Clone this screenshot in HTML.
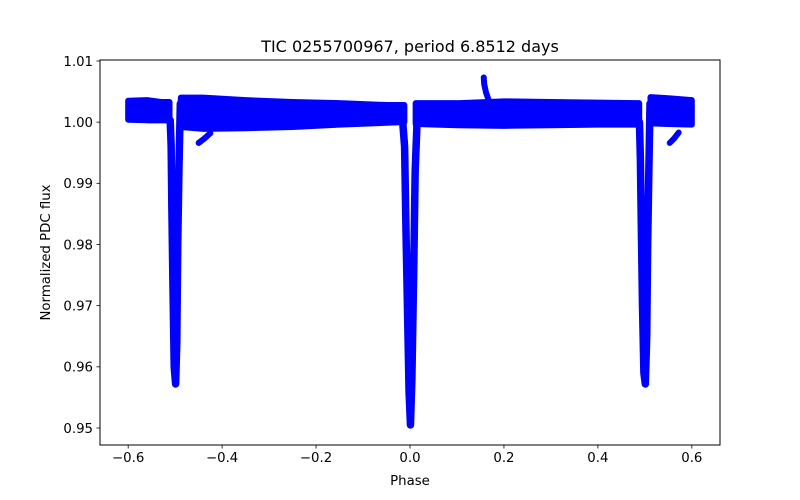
<!DOCTYPE html>
<html><head><meta charset="utf-8"><style>
html,body{margin:0;padding:0;background:#fff;}
svg{display:block;font-family:"DejaVu Sans","Liberation Sans",sans-serif;}
</style></head><body>
<svg id="chart" width="800" height="500" viewBox="0 0 800 500"></svg>
<script>
// ---- data ----
const xTicks = [-0.6, -0.4, -0.2, 0.0, 0.2, 0.4, 0.6];
const xTickLabels = ["\u22120.6", "\u22120.4", "\u22120.2", "0.0", "0.2", "0.4", "0.6"];
const yTicks = [0.95, 0.96, 0.97, 0.98, 0.99, 1.00, 1.01];
const yTickLabels = ["0.95", "0.96", "0.97", "0.98", "0.99", "1.00", "1.01"];
// baseline band segments: phase, upper flux, lower flux
const bandPhase1 = [-0.600, -0.560, -0.530, -0.512];
const bandUpper1 = [1.0035, 1.0036, 1.0033, 1.0033];
const bandLower1 = [1.0004, 1.0003, 1.0003, 1.0003];
const bandPhase2 = [-0.488, -0.440, -0.350, -0.250, -0.150, -0.050, -0.012];
const bandUpper2 = [1.0040, 1.0040, 1.0036, 1.0033, 1.0031, 1.0028, 1.0028];
const bandLower2 = [0.9992, 0.9989, 0.9990, 0.9992, 0.9996, 0.9999, 1.0000];
const bandPhase3 = [0.012, 0.100, 0.200, 0.300, 0.400, 0.488];
const bandUpper3 = [1.0031, 1.0031, 1.0034, 1.0033, 1.0032, 1.0031];
const bandLower3 = [0.9997, 0.9995, 0.9994, 0.9995, 0.9996, 0.9996];
const bandPhase4 = [0.512, 0.550, 0.600];
const bandUpper4 = [1.0041, 1.0039, 1.0036];
const bandLower4 = [0.9998, 0.9997, 0.9996];
// eclipses: phase and flux along ingress -> bottom -> egress
const ecl1Phase = [-0.5105, -0.5085, -0.5070, -0.5050, -0.5020, -0.4990, -0.4965, -0.4945, -0.4920, -0.4890];
const ecl1Flux  = [1.0003, 0.9960, 0.9860, 0.9750, 0.9600, 0.9572, 0.9640, 0.9800, 0.9920, 1.0030];
const ecl2Phase = [-0.0155, -0.0115, -0.0085, -0.0050, -0.0020, 0.0010, 0.0040, 0.0080, 0.0110, 0.0150];
const ecl2Flux  = [1.0000, 0.9960, 0.9820, 0.9680, 0.9560, 0.9505, 0.9580, 0.9760, 0.9920, 1.0000];
const ecl3Phase = [0.4885, 0.4905, 0.4925, 0.4950, 0.4980, 0.5010, 0.5040, 0.5060, 0.5085, 0.5110];
const ecl3Flux  = [1.0000, 0.9940, 0.9830, 0.9700, 0.9590, 0.9572, 0.9650, 0.9800, 0.9920, 1.0030];
// small features
const tail1Phase = [-0.450, -0.438, -0.425];
const tail1Flux  = [0.9966, 0.9973, 0.9982];
const tail2Phase = [0.553, 0.562, 0.572];
const tail2Flux  = [0.9966, 0.9973, 0.9983];
const bumpPhase = [0.157, 0.158, 0.162, 0.168];
const bumpFlux  = [1.0073, 1.0062, 1.0048, 1.0035];

// ---- axes ----
const L = 100, R = 720, T = 60, B = 445;
const xMin = -0.66, xMax = 0.66, yMin = 0.94722, yMax = 1.01016;
const xs = v => L + (v - xMin) / (xMax - xMin) * (R - L);
const ys = v => B - (v - yMin) / (yMax - yMin) * (B - T);
const NS = "http://www.w3.org/2000/svg";
const svg = document.getElementById('chart');
function mk(tag, attrs, parent) {
  const e = document.createElementNS(NS, tag);
  for (const k in attrs) e.setAttribute(k, attrs[k]);
  (parent || svg).appendChild(e);
  return e;
}
const BLUE = "#0000ff";
const data = mk('g', {});



function band(ph, up, lo, name) {
  let pts = [];
  for (let i = 0; i < ph.length; i++) pts.push(xs(ph[i]) + "," + ys(up[i]));
  for (let i = ph.length - 1; i >= 0; i--) pts.push(xs(ph[i]) + "," + ys(lo[i]));
  const p = mk('polygon', {points: pts.join(" "), fill: BLUE, stroke: BLUE, "stroke-width": 6, "stroke-linejoin": "round"}, data);
  
  
}
function line(ph, fl, name, w) {
  const pts = ph.map((p, i) => xs(p) + "," + ys(fl[i])).join(" ");
  const p = mk('polyline', {points: pts, fill: "none", stroke: BLUE, "stroke-width": w, "stroke-linejoin": "round", "stroke-linecap": "round"}, data);
  
  
}
band(bandPhase1, bandUpper1, bandLower1, 'baseline-band-1');
band(bandPhase2, bandUpper2, bandLower2, 'baseline-band-2');
band(bandPhase3, bandUpper3, bandLower3, 'baseline-band-3');
band(bandPhase4, bandUpper4, bandLower4, 'baseline-band-4');
line(ecl1Phase, ecl1Flux, 'secondary-eclipse-left', 7.5);
line(ecl2Phase, ecl2Flux, 'primary-eclipse', 7.5);
line(ecl3Phase, ecl3Flux, 'secondary-eclipse-right', 7.5);
line(tail1Phase, tail1Flux, 'feature-tail-left', 6);
line(tail2Phase, tail2Flux, 'feature-tail-right', 6);
line(bumpPhase, bumpFlux, 'flare-bump', 6);

// frame
const fr = mk('rect', {x: L, y: T, width: R - L, height: B - T, fill: "none", stroke: "#000", "stroke-width": 1});



// x ticks
xTicks.forEach((t, i) => {
  const x = xs(t);
  const tk = mk('line', {x1: x, x2: x, y1: B, y2: B + 3.5, stroke: "#000", "stroke-width": 0.8});
  
  
  const tx = mk('text', {x: x, y: B + 17, "text-anchor": "middle", "font-size": "13.3px"});
  tx.textContent = xTickLabels[i];
  
  
});
// y ticks
yTicks.forEach((t, i) => {
  const y = ys(t);
  const tk = mk('line', {x1: L - 3.5, x2: L, y1: y, y2: y, stroke: "#000", "stroke-width": 0.8});
  
  
  const tx = mk('text', {x: L - 7, y: y + 4.8, "text-anchor": "end", "font-size": "13.3px"});
  tx.textContent = yTickLabels[i];
  
  
});
const xl = mk('text', {x: (L + R) / 2, y: 485, "text-anchor": "middle", "font-size": "13.3px"});
xl.textContent = "Phase";


const yl = mk('text', {x: 50, y: (T + B) / 2, "text-anchor": "middle", "font-size": "13.3px", transform: "rotate(-90 50 " + ((T + B) / 2) + ")"});
yl.textContent = "Normalized PDC flux";


const ti = mk('text', {x: (L + R) / 2, y: 52, "text-anchor": "middle", "font-size": "16px"});
ti.textContent = "TIC 0255700967, period 6.8512 days";


</script>
</body></html>
